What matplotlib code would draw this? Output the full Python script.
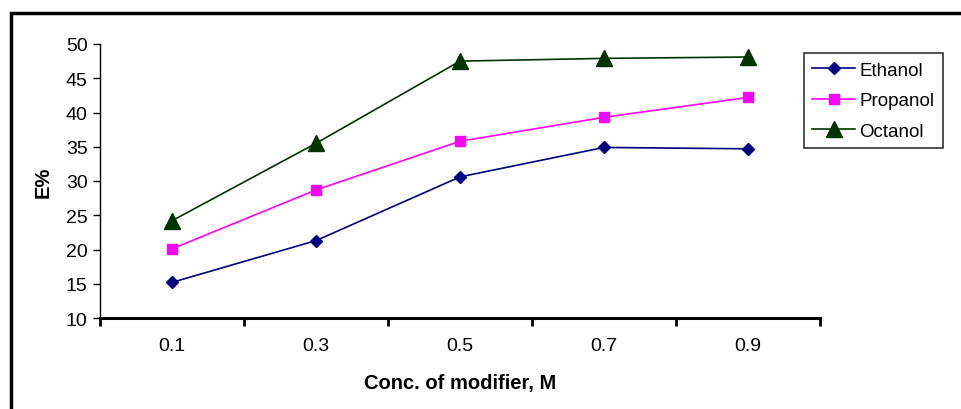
import matplotlib.pyplot as plt
from matplotlib.patches import Rectangle
import numpy as np

plt.rcParams['font.family'] = ['Liberation Sans', 'DejaVu Sans']

conc = ['0.1', '0.3', '0.5', '0.7', '0.9']
ethanol = [15.2, 21.3, 30.6, 34.9, 34.7]
propanol = [20.1, 28.7, 35.8, 39.3, 42.2]
octanol = [24.2, 35.5, 47.5, 47.9, 48.1]

W, H = 962, 410
fig = plt.figure(figsize=(W / 100, H / 100), dpi=100)

# outer chart frame (clipped at right and bottom like the reference)
fig.patches.append(Rectangle((11 / W, -0.1), 1.2, 1.1 - 14 / H, transform=fig.transFigure,
                             fill=False, edgecolor='black', linewidth=2.5))

ax = fig.add_axes([100 / W, 1 - 319 / H, 720 / W, 274 / H])
x = np.arange(len(conc))

ax.plot(x, ethanol, color='#000080', marker='D', markersize=6, linewidth=1.2, label='Ethanol')
ax.plot(x, propanol, color='#FF00FF', marker='s', markersize=7, linewidth=1.2, label='Propanol')
ax.plot(x, octanol, color='#003300', marker='^', markersize=11, linewidth=1.2, label='Octanol')

ax.set_xlim(-0.5, len(conc) - 0.5)
ax.set_ylim(10, 50)
ax.set_yticks(np.arange(10, 51, 5))

# category ticks on boundaries, labels in the middle
ax.set_xticks(np.arange(-0.5, len(conc), 1.0))
ax.set_xticklabels([])
ax.set_xticks(x, minor=True)
ax.set_xticklabels(conc, minor=True)
ax.tick_params(axis='x', which='major', direction='out', length=6, width=2)
ax.tick_params(axis='x', which='minor', length=0, pad=14, labelsize=14)
ax.tick_params(axis='y', direction='out', length=5, width=1, labelsize=14, pad=4)

for s in ['top', 'right']:
    ax.spines[s].set_visible(False)
ax.spines['bottom'].set_linewidth(2.2)
ax.spines['left'].set_linewidth(1)

ax.set_xlabel('Conc. of modifier, M', fontsize=14.5, fontweight='bold', labelpad=13)
ax.set_ylabel('E%', fontsize=14.5, fontweight='bold', labelpad=9)

leg = ax.legend(loc='upper left', bbox_to_anchor=(804 / W, 1 - 54 / H), bbox_transform=fig.transFigure,
                fontsize=13.5, frameon=True, fancybox=False, borderpad=0.45, handlelength=2.25,
                handletextpad=0.25, labelspacing=0.72, borderaxespad=0)
leg.get_frame().set_edgecolor('black')
leg.get_frame().set_linewidth(1.2)

fig.savefig('out.png', dpi=100)
